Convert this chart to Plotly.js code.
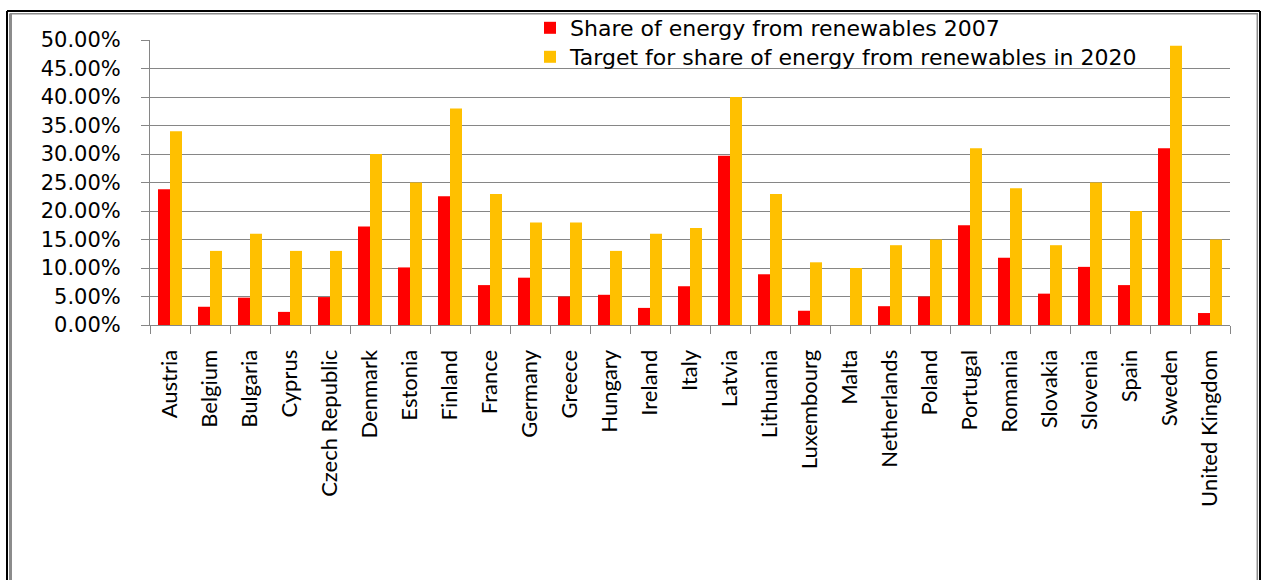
<!DOCTYPE html>
<html>
<head>
<meta charset="utf-8">
<script src="https://cdn.plot.ly/plotly-3.0.1.min.js"></script>
<style>
  html, body { margin: 0; padding: 0; background: #ffffff; }
  #chart { width: 1261px; height: 580px; }
</style>
</head>
<body>
<div id="chart"></div>
<script>
// EU member states, share of energy from renewable sources (%)
const countries = [
  "Austria", "Belgium", "Bulgaria", "Cyprus", "Czech Republic", "Denmark",
  "Estonia", "Finland", "France", "Germany", "Greece", "Hungary", "Ireland",
  "Italy", "Latvia", "Lithuania", "Luxembourg", "Malta", "Netherlands",
  "Poland", "Portugal", "Romania", "Slovakia", "Slovenia", "Spain", "Sweden",
  "United Kingdom"
];

const share2007 = [
  23.8, 3.2, 4.8, 2.3, 4.9, 17.3,
  10.1, 22.6, 7.0, 8.3, 5.0, 5.3, 3.0,
  6.8, 29.7, 8.9, 2.5, 0.0, 3.3,
  5.0, 17.5, 11.8, 5.5, 10.2, 7.0, 31.0,
  2.1
];

const target2020 = [
  34, 13, 16, 13, 13, 30,
  25, 38, 23, 18, 18, 13, 16,
  17, 40, 23, 11, 10, 14,
  15, 31, 24, 14, 25, 20, 49,
  15
];

const seriesNames = [
  "Share of energy from renewables 2007",
  "Target for share of energy from renewables in 2020"
];

const W = 1261, H = 580;
const M = { l: 150, r: 31, t: 40, b: 255, autoexpand: false };
const plotW = W - M.l - M.r, plotH = H - M.t - M.b;
const px = x => (x - M.l) / plotW;
const py = y => (H - M.b - y) / plotH;

// Double-line frame around the chart (black outside, grey inside)
function frameLine(x0, y0, x1, y1, color, width) {
  return {
    type: "line", xref: "paper", yref: "paper", layer: "above",
    x0: px(x0), y0: py(y0), x1: px(x1), y1: py(y1),
    line: { color: color, width: width }
  };
}
const frame = [
  frameLine(7, 11, 7, 600, "#000000", 2),
  frameLine(7, 11, 1260, 11, "#000000", 2),
  frameLine(1260, 11, 1260, 600, "#000000", 2),
  frameLine(10.5, 13.5, 10.5, 600, "#8c8c8c", 3),
  frameLine(10, 13.8, 1258, 13.8, "#8c8c8c", 1.5),
  frameLine(1257.3, 13.8, 1257.3, 600, "#8c8c8c", 1.5)
];

const traces = [
  {
    type: "bar", name: seriesNames[0], x: countries, y: share2007,
    marker: { color: "#ff0000" }, hoverinfo: "x+y", legend: "legend"
  },
  {
    type: "bar", name: seriesNames[1], x: countries, y: target2020,
    marker: { color: "#ffc000" }, hoverinfo: "x+y", legend: "legend2"
  }
];

const gridGrey = "#868686";
const legendFont = { family: "DejaVu Sans", size: 22, color: "#000000" };

function legendAt(cy) {
  return {
    x: px(530), y: py(cy), xanchor: "left", yanchor: "middle",
    bgcolor: "rgba(0,0,0,0)", font: legendFont, itemwidth: 30
  };
}

const layout = {
  width: W, height: H,
  margin: M,
  paper_bgcolor: "#ffffff",
  plot_bgcolor: "rgba(0,0,0,0)",
  barmode: "group",
  bargap: 0.4,
  bargroupgap: 0,
  showlegend: true,
  legend: legendAt(28),
  legend2: legendAt(57),
  xaxis: {
    type: "category",
    tickson: "boundaries",
    ticks: "outside", ticklen: 8, tickwidth: 1, tickcolor: gridGrey,
    showline: true, linecolor: gridGrey, linewidth: 1,
    showgrid: false,
    tickangle: -90,
    ticklabelstandoff: 15,
    tickfont: { family: "Lato", size: 22, color: "#000000" },
    automargin: false,
    fixedrange: true
  },
  yaxis: {
    range: [0, 50], dtick: 5, tick0: 0,
    tickformat: ".2f", ticksuffix: "%",
    ticks: "outside", ticklen: 8, tickwidth: 1, tickcolor: gridGrey,
    showline: true, linecolor: gridGrey, linewidth: 1,
    showgrid: true, gridcolor: gridGrey, gridwidth: 1,
    zeroline: false,
    ticklabelstandoff: 16,
    tickfont: { family: "DejaVu Sans", size: 21, color: "#000000" },
    automargin: false,
    fixedrange: true
  },
  shapes: frame,
  font: { family: "DejaVu Sans", color: "#000000" }
};

Plotly.newPlot("chart", traces, layout, { displayModeBar: false, staticPlot: true });
</script>
</body>
</html>
